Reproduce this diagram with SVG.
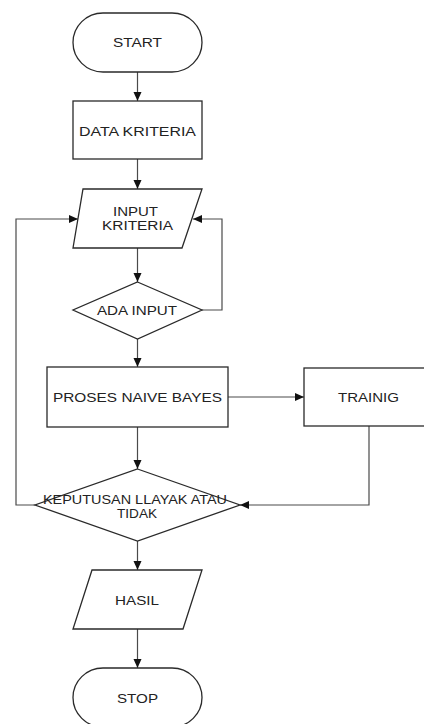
<svg xmlns="http://www.w3.org/2000/svg" width="424" height="724" viewBox="0 0 424 724">
<style>
.shape{fill:#fff;stroke:#2a2a2a;stroke-width:1.3}
.conn{fill:none;stroke:#4a4a4a;stroke-width:1.2}
text{font-family:"Liberation Sans",Arial,sans-serif;font-size:13.5px;fill:#222;text-anchor:middle}
text.two{font-size:12px}
</style>
<defs>
<marker id="ah" markerUnits="userSpaceOnUse" markerWidth="10" markerHeight="9" refX="9" refY="4" orient="auto">
<path d="M0,0 L9,4 L0,8 z" fill="#111"/>
</marker>
</defs>
<rect width="424" height="724" fill="#fff"/>
<g id="connectors">
<line class="conn" x1="137.5" y1="72" x2="137.5" y2="101" marker-end="url(#ah)"/>
<line class="conn" x1="137.5" y1="159" x2="137.5" y2="189" marker-end="url(#ah)"/>
<line class="conn" x1="137.5" y1="248" x2="137.5" y2="282" marker-end="url(#ah)"/>
<line class="conn" x1="137.5" y1="339" x2="137.5" y2="367" marker-end="url(#ah)"/>
<line class="conn" x1="228" y1="397" x2="304" y2="397" marker-end="url(#ah)"/>
<line class="conn" x1="137.5" y1="427" x2="137.5" y2="469" marker-end="url(#ah)"/>
<polyline class="conn" points="369,426 369,505 240,505" marker-end="url(#ah)"/>
<polyline class="conn" points="35,505 16,505 16,219 78,219" marker-end="url(#ah)"/>
<polyline class="conn" points="202,310 222,310 222,219 193,219" marker-end="url(#ah)"/>
<line class="conn" x1="137.5" y1="541" x2="137.5" y2="570" marker-end="url(#ah)"/>
<line class="conn" x1="137.5" y1="629" x2="137.5" y2="668" marker-end="url(#ah)"/>
</g>
<g id="start">
<rect class="shape" x="73" y="13" width="129" height="59" rx="30" ry="29.5"/>
<text x="137.5" y="47" textLength="49" lengthAdjust="spacingAndGlyphs">START</text>
</g>
<g id="data-kriteria">
<rect class="shape" x="73" y="101" width="129" height="58"/>
<text x="137.5" y="136" textLength="117" lengthAdjust="spacingAndGlyphs">DATA KRITERIA</text>
</g>
<g id="input-kriteria">
<polygon class="shape" points="83,189 202,189 182,248 73,248"/>
<text class="two" x="135.5" y="216" textLength="45" lengthAdjust="spacingAndGlyphs">INPUT</text>
<text class="two" x="137.5" y="230" textLength="71" lengthAdjust="spacingAndGlyphs">KRITERIA</text>
</g>
<g id="ada-input">
<polygon class="shape" points="137.5,282 202,310 137.5,339 73,310"/>
<text x="137" y="315" textLength="80" lengthAdjust="spacingAndGlyphs">ADA INPUT</text>
</g>
<g id="proses">
<rect class="shape" x="47" y="367" width="181" height="60"/>
<text x="137.5" y="402" textLength="169" lengthAdjust="spacingAndGlyphs">PROSES NAIVE BAYES</text>
</g>
<g id="trainig">
<rect class="shape" x="304" y="368" width="130" height="58"/>
<text x="368.5" y="402" textLength="61" lengthAdjust="spacingAndGlyphs">TRAINIG</text>
</g>
<g id="keputusan">
<polygon class="shape" points="137.5,469 240,505 137.5,541 35,505"/>
<text class="two" x="135" y="504" textLength="184" lengthAdjust="spacingAndGlyphs">KEPUTUSAN LLAYAK ATAU</text>
<text class="two" x="137" y="518" textLength="40" lengthAdjust="spacingAndGlyphs">TIDAK</text>
</g>
<g id="hasil">
<polygon class="shape" points="92,570 202,570 183,629 73,629"/>
<text x="137" y="605" textLength="44" lengthAdjust="spacingAndGlyphs">HASIL</text>
</g>
<g id="stop">
<rect class="shape" x="73" y="668" width="129" height="59" rx="30" ry="29.5"/>
<text x="137.5" y="703" textLength="41" lengthAdjust="spacingAndGlyphs">STOP</text>
</g>
</svg>
